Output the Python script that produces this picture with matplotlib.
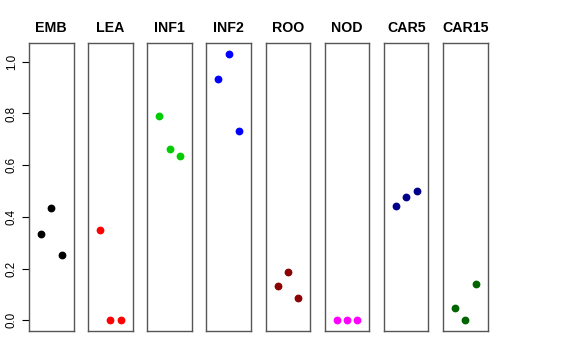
import matplotlib
matplotlib.use("Agg")
import matplotlib.pyplot as plt

plt.rcParams['font.family'] = ['Liberation Sans', 'DejaVu Sans']

# data
tissues = ['EMB', 'LEA', 'INF1', 'INF2', 'ROO', 'NOD', 'CAR5', 'CAR15']
colors = ['black', '#FF0000', '#00CD00', '#0000FF', '#8B0000', '#FF00FF', '#00008B', '#006400']
reps = [1, 2, 3]
emb = [0.332, 0.435, 0.254]
lea = [0.348, 0.0, 0.0]
inf1 = [0.791, 0.662, 0.635]
inf2 = [0.934, 1.031, 0.732]
roo = [0.134, 0.187, 0.086]
nod = [0.0, 0.0, 0.0]
car5 = [0.441, 0.478, 0.501]
car15 = [0.049, 0.0, 0.141]
values = [emb, lea, inf1, inf2, roo, nod, car5, car15]
yticks = [0.0, 0.2, 0.4, 0.6, 0.8, 1.0]

W, H = 576, 360
fig = plt.figure(figsize=(W / 100, H / 100), dpi=100)

left0 = 29.0
step = 59.15
pw = 44.6
top = 43.3
bottom = 331.0

for i, (name, vals, col) in enumerate(zip(tissues, values, colors)):
    x0 = left0 + i * step
    ax = fig.add_axes([x0 / W, 1 - bottom / H, pw / W, (bottom - top) / H])
    ax.plot(reps, vals, 'o', color=col, ms=4.6, mec=col)
    ax.set_xlim(-0.16, 4.16)
    ax.set_ylim(-0.0412, 1.0712)
    ax.set_xticks([])
    for s in ax.spines.values():
        s.set_color('#555555')
        s.set_linewidth(1.0)
    ax.set_title(name, fontsize=10.2, fontweight='bold', pad=8)
    if i == 0:
        ax.set_yticks(yticks)
        ax.set_yticklabels(['%.1f' % t for t in yticks], rotation=90, va='center', fontsize=8.4)
        ax.tick_params(axis='y', length=5, width=0.8, pad=3, colors='black')
    else:
        ax.set_yticks([])

fig.savefig('out.png', dpi=100)
